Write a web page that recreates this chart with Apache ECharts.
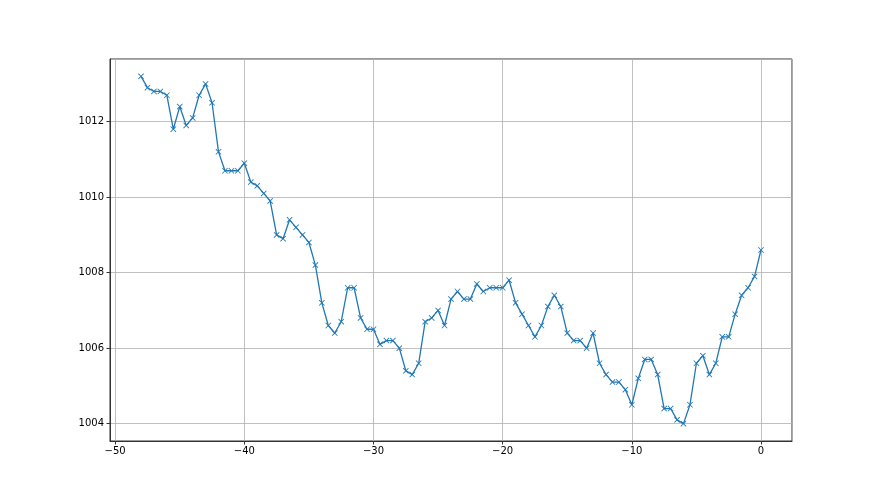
<!DOCTYPE html>
<html>
<head>
<meta charset="utf-8">
<script src="https://cdn.jsdelivr.net/npm/echarts@6/dist/echarts.min.js"></script>
<style>html,body{margin:0;padding:0;background:#fff;}#c{width:880px;height:495px;}</style>
</head>
<body>
<div id="c"></div>
<script>
const xStart = -48;
const xStep = 0.5;
const pressure = [
1013.2,1012.9,1012.8,1012.8,1012.7,1011.8,1012.4,1011.9,1012.1,1012.7,
1013.0,1012.5,1011.2,1010.7,1010.7,1010.7,1010.9,1010.4,1010.3,1010.1,
1009.9,1009.0,1008.9,1009.4,1009.2,1009.0,1008.8,1008.2,1007.2,1006.6,
1006.4,1006.7,1007.6,1007.6,1006.8,1006.5,1006.5,1006.1,1006.2,1006.2,
1006.0,1005.4,1005.3,1005.6,1006.7,1006.8,1007.0,1006.6,1007.3,1007.5,
1007.3,1007.3,1007.7,1007.5,1007.6,1007.6,1007.6,1007.8,1007.2,1006.9,
1006.6,1006.3,1006.6,1007.1,1007.4,1007.1,1006.4,1006.2,1006.2,1006.0,
1006.4,1005.6,1005.3,1005.1,1005.1,1004.9,1004.5,1005.2,1005.7,1005.7,
1005.3,1004.4,1004.4,1004.1,1004.0,1004.5,1005.6,1005.8,1005.3,1005.6,
1006.3,1006.3,1006.9,1007.4,1007.6,1007.9,1008.6
];
const xs = pressure.map((_, i) => xStart + i * xStep);
const seriesData = pressure.map((v, i) => [xs[i], v]);

const xMin = -50.4, xMax = 2.4;
const yMin = 1003.54, yMax = 1013.66;

const chart = echarts.init(document.getElementById('c'), null, {renderer: 'canvas'});
const axisCommon = {
  axisLine: {show: true, onZero: false, lineStyle: {color: '#333', width: 1}},
  axisTick: {show: true, length: 3.5, lineStyle: {color: '#333', width: 1}},
  axisLabel: {color: '#000', fontFamily: 'DejaVu Sans', fontSize: 10, showMinLabel: false, showMaxLabel: false},
  splitLine: {show: true, lineStyle: {color: '#b0b0b0', width: 0.8}}
};
chart.setOption({
  animation: false,
  backgroundColor: '#fff',
  grid: {left: 110, right: 88, top: 59, bottom: 54, show: true, borderColor: '#333', borderWidth: 1, containLabel: false},
  xAxis: Object.assign({type: 'value', min: xMin, max: xMax, splitNumber: 5}, axisCommon,
    {axisLabel: Object.assign({}, axisCommon.axisLabel, {margin: 5,
      formatter: v => (v < 0 ? '\u2212' + Math.abs(v) : String(v))})}),
  yAxis: Object.assign({type: 'value', min: yMin, max: yMax, splitNumber: 5}, axisCommon,
    {axisLabel: Object.assign({}, axisCommon.axisLabel, {margin: 6,
      formatter: v => String(Math.round(v))})}),
  series: [{
    type: 'line',
    data: seriesData,
    symbol: 'path://M0,1 L1,0 L5,4 L9,0 L10,1 L6,5 L10,9 L9,10 L5,6 L1,10 L0,9 L4,5 Z',
    symbolSize: 6,
    showAllSymbol: true,
    itemStyle: {color: '#1f77b4'},
    lineStyle: {color: '#1f77b4', width: 1.3}
  }]
});
</script>
</body>
</html>
